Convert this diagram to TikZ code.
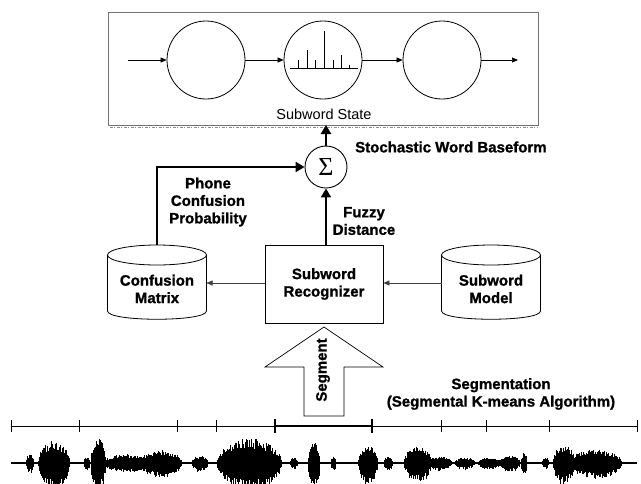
\documentclass[tikz,border=0pt]{standalone}
\usepackage{fontspec}
\setmainfont{Liberation Sans}[BoldFeatures={FakeBold=1.2}]
\newfontfamily\sigfont{Liberation Serif}
\usetikzlibrary{arrows.meta}
\begin{document}
\begin{tikzpicture}[x=1pt,y=-1pt,
  lbl/.style={font=\bfseries\fontsize{15}{17.5}\selectfont, align=center, inner sep=0},
  state/.style={draw, circle, minimum size=78, line width=0.8, inner sep=0},
  thinarrow/.style={-{Triangle[length=6,width=5]}, line width=0.6},
  grayarrow/.style={-{Triangle[length=6,width=5]}, line width=0.5, draw=black!75},
  fatarrow/.style={-{Triangle[length=9,width=10]}, line width=2.8},
  outline/.style={line width=0.8},
  declare function={
    bu(\x,\a,\b,\c)=\c*sqrt(max(0,sin(180*min(1,max(0,(\x-\a)/(\b-\a))))));
    env(\x)=max(bu(\x,26,34,8),bu(\x,38,70,22),bu(\x,84,90,6),bu(\x,91,106,24),
      bu(\x,104,150,8),bu(\x,140,182,12),bu(\x,192,208,7),bu(\x,217,282,24),
      bu(\x,290,298,5),bu(\x,308,320,20),bu(\x,331,336,6),bu(\x,358,378,18),
      bu(\x,384,393,6),bu(\x,404,432,16),bu(\x,428,452,6),bu(\x,455,475,5),
      bu(\x,478,500,5),bu(\x,500,520,7),bu(\x,521,527,10),bu(\x,542,549,5),
      bu(\x,553,575,18),bu(\x,570,622,13));
  }]
\useasboundingbox (0,0) rectangle (641,483);

% top frame
\draw[black!55, line width=0.5] (108,12) rectangle (538,125);
\draw[black!45, line width=0.8, dash pattern=on 3pt off 1pt on 1pt off 2pt] (110,127) -- (538,127);

% states
\node[state] (s1) at (206,60) {};
\node[state] (s2) at (323,60) {};
\node[state] (s3) at (442,60) {};
\coordinate (in) at (128,60);
\coordinate (out) at (518,60);
\draw[thinarrow] (in) -- (s1);
\draw[thinarrow] (s1) -- (s2);
\draw[thinarrow] (s2) -- (s3);
\draw[thinarrow] (s3) -- (out);
% histogram
\draw[line width=0.8] (290,68) -- (358,68);
\foreach \bx/\by in {298/60,307/50,315/60,324/31,333/60,341/55,349/65}
  \draw[line width=0.8] (\bx,68) -- (\bx,\by);
\node[font=\fontsize{14.5}{17}\selectfont, inner sep=0] (sst) at (324,114) {Subword State};

% sigma
\node[draw, circle, minimum size=42, line width=0.9, inner sep=0, font=\sigfont\fontsize{26}{26}\selectfont] (sig) at (326,167) {Σ};
\coordinate (boxb) at (326,125);
\draw[fatarrow] (sig) -- (boxb);
\node[lbl, anchor=west] (swb) at (355,147) {Stochastic Word Baseform};

% confusion matrix cylinder
\draw[outline] (157,255) ellipse [x radius=49.5, y radius=10];
\draw[outline] (107.5,255) -- (107.5,311) .. controls (107.5,322) and (206.5,322) .. (206.5,311) -- (206.5,255);
\node[lbl] (cm) at (157,289) {Confusion\\Matrix};
\coordinate (cmtop) at (157,245);
\coordinate (cmeast) at (206.5,283);

% subword model cylinder
\draw[outline] (491,255) ellipse [x radius=49.5, y radius=10];
\draw[outline] (441.5,255) -- (441.5,311) .. controls (441.5,322) and (540.5,322) .. (540.5,311) -- (540.5,255);
\node[lbl] (sm) at (491,289) {Subword\\Model};
\coordinate (smwest) at (441.5,283);

% recognizer
\node[draw, outline, minimum width=118, minimum height=78, lbl] (rec) at (324,284) {Subword\\Recognizer};

\draw[grayarrow] (rec.west |- cmeast) -- (cmeast);
\draw[grayarrow] (smwest) -- (rec.east |- smwest);

\draw[fatarrow] (cmtop) |- (sig.west);
\draw[fatarrow] (rec.north -| sig) -- (sig.south);
\node[lbl] (pcp) at (208,202) {Phone\\Confusion\\Probability};
\node[lbl] (fd) at (364,221) {Fuzzy\\Distance};

% segment arrow
\draw[line width=0.7] (304,416) -- (304,367) -- (265,367) -- (324,327) -- (383,367) -- (344,367) -- (344,416) -- cycle;
\node[lbl, rotate=90] (seg) at (323,370) {Segment};

\node[lbl] (sgm) at (501,394) {Segmentation\\(Segmental K-means Algorithm)};

% segmentation line
\draw[line width=1] (11,426) -- (637,426);
\draw[line width=2.6] (275,426) -- (372,426);
\foreach \tx in {11,79,177,216,441,486,549,637}
  \draw[line width=0.9] (\tx,420) -- (\tx,432);
\foreach \tx in {275,372}
  \draw[line width=2] (\tx,419) -- (\tx,433);

% waveform
\begin{scope}
\clip (0,0) rectangle (641,483);
\draw[line width=1.3] (11,463) -- (637,463);
\pgfmathsetseed{3}
\foreach \x in {11,11.8,...,637}{
  \pgfmathsetmacro\e{env(\x)}
  \pgfmathsetmacro\u{\e*(0.55+0.45*rnd)+0.7}
  \pgfmathsetmacro\d{\e*(0.55+0.45*rnd)*1.2+0.7}
  \draw[line width=0.95] (\x,463-\u) -- (\x,463+\d);
}
\end{scope}
\end{tikzpicture}
\end{document}
